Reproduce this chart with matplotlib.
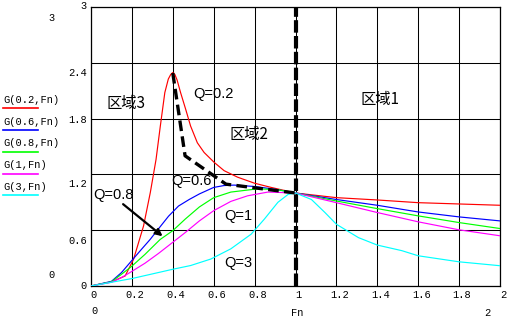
import matplotlib
matplotlib.use("Agg")
import matplotlib.pyplot as plt
from matplotlib.lines import Line2D

# ---------------- data ----------------
fn_q02 = [0, 0.1, 0.167, 0.208, 0.257, 0.29, 0.318, 0.339, 0.361, 0.378, 0.39, 0.4,
          0.41, 0.421, 0.438, 0.463, 0.487, 0.52, 0.553, 0.602, 0.651, 0.717, 0.8,
          0.881, 1.0, 1.2, 1.4, 1.6, 1.8, 2.0]
g_q02 = [0, 0.045, 0.108, 0.287, 0.646, 1.005, 1.36, 1.72, 2.08, 2.225, 2.275, 2.295,
         2.275, 2.215, 2.08, 1.90, 1.72, 1.54, 1.436, 1.33, 1.24, 1.17, 1.105,
         1.06, 1.0, 0.95, 0.925, 0.896, 0.882, 0.868]

fn_q06 = [0, 0.1, 0.149, 0.198, 0.247, 0.289, 0.321, 0.379, 0.428, 0.48, 0.53,
          0.6, 0.65, 0.7, 0.8, 0.9, 1.0, 1.2, 1.4, 1.6, 1.8, 2.0]
g_q06 = [0, 0.05, 0.144, 0.27, 0.395, 0.50, 0.59, 0.75, 0.86, 0.93, 0.99,
         1.06, 1.08, 1.085, 1.07, 1.04, 1.0, 0.93, 0.868, 0.796, 0.743, 0.70]

fn_q08 = [0, 0.1, 0.149, 0.198, 0.264, 0.338, 0.4, 0.461, 0.53, 0.6, 0.684,
          0.816, 0.914, 1.0, 1.2, 1.4, 1.6, 1.8, 2.0]
g_q08 = [0, 0.045, 0.126, 0.21, 0.34, 0.50, 0.595, 0.72, 0.85, 0.95, 1.01,
         1.045, 1.035, 1.0, 0.914, 0.832, 0.754, 0.682, 0.618]

fn_q1 = [0, 0.1, 0.149, 0.198, 0.264, 0.33, 0.4, 0.461, 0.53, 0.6, 0.684,
         0.766, 0.865, 1.0, 1.2, 1.4, 1.6, 1.8, 2.0]
g_q1 = [0, 0.04, 0.09, 0.155, 0.245, 0.35, 0.47, 0.575, 0.70, 0.81, 0.91,
        0.97, 1.01, 1.0, 0.896, 0.79, 0.69, 0.604, 0.54]

fn_q3 = [0, 0.1, 0.2, 0.3, 0.4, 0.487, 0.586, 0.684, 0.783, 0.848, 0.914,
         0.964, 1.0, 1.078, 1.144, 1.2, 1.308, 1.4, 1.52, 1.6, 1.8, 2.0]
g_q3 = [0, 0.04, 0.08, 0.13, 0.18, 0.22, 0.29, 0.40, 0.557, 0.72, 0.90,
        0.985, 1.0, 0.93, 0.79, 0.664, 0.52, 0.44, 0.38, 0.325, 0.26, 0.218]

series_names = ["G(0.2,Fn)", "G(0.6,Fn)", "G(0.8,Fn)", "G(1,Fn)", "G(3,Fn)"]
series_colors = ["#ff0000", "#0000ff", "#00ff00", "#ff00ff", "#00ffff"]

# region boundary (peak line) and the vertical boundary at Fn = 1
peak_fn = [0.4, 0.46, 0.66, 1.0]
peak_g = [2.29, 1.40, 1.095, 1.0]
boundary_fn = 1.0

x_ticks = [0, 0.2, 0.4, 0.6, 0.8, 1, 1.2, 1.4, 1.6, 1.8, 2]
x_labels = ["0", "0.2", "0.4", "0.6", "0.8", "1", "1.2", "1.4", "1.6", "1.8", "2"]
y_ticks = [0, 0.6, 1.2, 1.8, 2.4, 3]
y_labels = ["0", "0.6", "1.2", "1.8", "2.4", "3"]
y_label_drop_px = [0, 11, 10, 1, 10, -1]

region_texts = ["区域1", "区域2", "区域3"]
region_pos = [(1.413, 2.01), (0.773, 1.633), (0.172, 1.967)]
q_texts = ["Q=0.2", "Q=0.6", "Q=0.8", "Q=1", "Q=3"]
q_pos = [(0.60, 2.063), (0.492, 1.127), (0.108, 0.976), (0.719, 0.75), (0.719, 0.244)]
arrow_from = (0.157, 0.88)
arrow_to = (0.35, 0.535)

# ---------------- figure ----------------
W, H = 510, 319
fig = plt.figure(figsize=(W / 100, H / 100), dpi=100)
fig.patch.set_facecolor("white")
ax = fig.add_axes([91 / W, 33 / H, 409 / W, 279 / H])

mono = "Liberation Mono"
PX = 72 / 100.0  # points per pixel

ax.set_xlim(0, 2)
ax.set_ylim(0, 3)
ax.set_xticks(x_ticks)
ax.set_yticks(y_ticks)
ax.set_xticklabels([])
ax.set_yticklabels([])
ax.tick_params(length=0)
ax.grid(True, color="black", linewidth=0.75)
ax.set_axisbelow(True)
for s in ax.spines.values():
    s.set_color("black")
    s.set_linewidth(0.9)

curves = [(fn_q02, g_q02), (fn_q06, g_q06), (fn_q08, g_q08), (fn_q1, g_q1), (fn_q3, g_q3)]
for (xs, ys), c in zip(curves, series_colors):
    ax.plot(xs, ys, color=c, linewidth=0.85, solid_joinstyle="round", zorder=3)

ax.plot(peak_fn, peak_g, color="black", linewidth=2.4, dashes=(3.2, 1.6), zorder=4)
ax.axvline(boundary_fn, color="black", linewidth=3.0, dashes=(3.0, 0.8), zorder=4)

ax.annotate("", xy=arrow_to, xytext=arrow_from,
            arrowprops=dict(arrowstyle="-|>", color="black", lw=1.6,
                            mutation_scale=10, shrinkA=0, shrinkB=0), zorder=5)

for t, (x, y) in zip(region_texts, region_pos):
    ax.text(x, y, t, fontsize=11, family=["Noto Sans CJK SC", "DejaVu Sans"],
            ha="center", va="center", color="black", zorder=6)
for t, (x, y) in zip(q_texts, q_pos):
    ax.text(x, y, t, fontsize=10.5, family=["Liberation Sans", "DejaVu Sans"],
            ha="center", va="center", color="black", zorder=6)

# tick labels (Mathcad style)
for v, lab in zip(x_ticks, x_labels):
    ax.annotate(lab, xy=(v, 0), xycoords=("data", "axes fraction"),
                xytext=(3 * PX, -9 * PX), textcoords="offset points",
                ha="center", va="center", fontsize=7.5, family=mono)
for v, lab, d in zip(y_ticks, y_labels, y_label_drop_px):
    ax.annotate(lab, xy=(0, v), xycoords=("axes fraction", "data"),
                xytext=(-4 * PX, -d * PX), textcoords="offset points",
                ha="right", va="center", fontsize=7.5, family=mono)

def fx(px):
    return px / W

def fy(py):
    return 1 - py / H

# Mathcad axis limit fields and axis name
fig.text(fx(52), fy(18), "3", fontsize=7.5, family=mono, ha="center", va="center")
fig.text(fx(52), fy(275), "0", fontsize=7.5, family=mono, ha="center", va="center")
fig.text(fx(94), fy(311), "0", fontsize=7.5, family=mono, ha="center", va="center")
fig.text(fx(297), fy(313), "Fn", fontsize=7.5, family=mono, ha="center", va="center")
fig.text(fx(487), fy(313), "2", fontsize=7.5, family=mono, ha="center", va="center")

# left legend
for i, (name, c) in enumerate(zip(series_names, series_colors)):
    ty = 100 + i * 21.7
    fig.text(fx(3), fy(ty), name, fontsize=7.5, family=mono, ha="left", va="center")
    fig.add_artist(Line2D([fx(3), fx(38)], [fy(ty + 8.5), fy(ty + 8.5)],
                          color=c, linewidth=1.2, transform=fig.transFigure))

fig.savefig("out.png", dpi=100, facecolor="white")
